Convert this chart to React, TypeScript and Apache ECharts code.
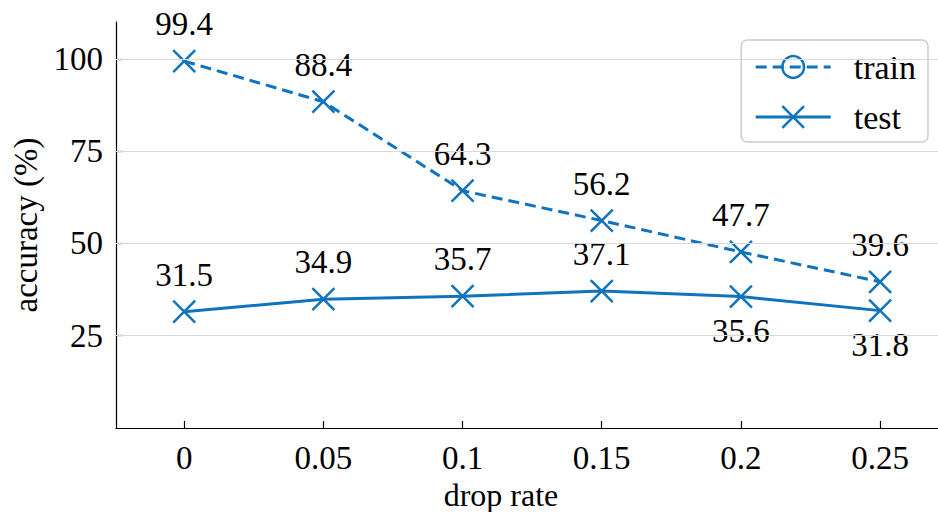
import React, { useEffect, useRef } from "react";
import * as echarts from "echarts";

const dropRates = [0, 0.05, 0.1, 0.15, 0.2, 0.25];
const trainAcc = [99.4, 88.4, 64.3, 56.2, 47.7, 39.6];
const testAcc = [31.5, 34.9, 35.7, 37.1, 35.6, 31.8];
const testLabelBelow = [false, false, false, false, true, true];
const yTicks = [25, 50, 75, 100];
const xTicks = [0, 0.05, 0.1, 0.15, 0.2, 0.25];

const BLUE = "#0f74bd";
const FONT = "'Liberation Serif', 'Times New Roman', Times, serif";
const FS = 33;
const X_PATH = "path://M0,0L10,10M10,0L0,10";

export default function App() {
  const ref = useRef<HTMLDivElement>(null);
  useEffect(() => {
    if (!ref.current) return;
    const chart = echarts.init(ref.current, null, { renderer: "svg" });
    const markerStyle = { color: "none", borderColor: BLUE, borderWidth: 2.5 };
    const labelStyle = { fontFamily: FONT, fontSize: FS, color: "#000" };
    chart.setOption({
      animation: false,
      textStyle: { fontFamily: FONT },
      grid: { left: 116, right: 0, top: 22, bottom: 84, outerBoundsMode: "none", containLabel: false },
      xAxis: {
        type: "value",
        min: -0.0245,
        max: 0.2708,
        name: "drop rate",
        nameLocation: "middle",
        nameGap: 48,
        nameTextStyle: { fontFamily: FONT, fontSize: 32, color: "#000", padding: [0, 52, 0, 0] },
        axisLine: { show: true, onZero: false, lineStyle: { color: "#000", width: 1.2 } },
        axisTick: { show: true, inside: true, length: 7, customValues: xTicks, lineStyle: { color: "#000", width: 1.2 } },
        axisLabel: {
          customValues: xTicks,
          margin: 13,
          fontFamily: FONT,
          fontSize: FS,
          color: "#000",
          formatter: (v: number) => String(+v.toFixed(2)),
        },
        splitLine: { show: false },
      },
      yAxis: {
        type: "value",
        min: 0,
        max: 110,
        interval: 25,
        name: "accuracy (%)",
        nameLocation: "middle",
        nameGap: 67,
        nameTextStyle: { fontFamily: FONT, fontSize: FS, color: "#000" },
        axisLine: { show: true, onZero: false, lineStyle: { color: "#000", width: 1.2 } },
        axisTick: { show: true, inside: true, length: 7, customValues: yTicks, lineStyle: { color: "#000", width: 1.2 } },
        axisLabel: { customValues: yTicks, margin: 13, fontFamily: FONT, fontSize: FS, color: "#000" },
        splitLine: { show: false },
      },
      legend: {
        data: [
          { name: "train", itemStyle: { color: "none", borderColor: BLUE, borderWidth: 2.5 }, lineStyle: { width: 3 } },
          { name: "test", itemStyle: { color: "none", borderColor: BLUE, borderWidth: 2.5 }, lineStyle: { width: 3 } },
        ],
        orient: "vertical",
        right: 10,
        top: 40,
        itemWidth: 75,
        itemHeight: 27,
        itemGap: 16,
        padding: [10, 12, 8, 13],
        backgroundColor: "#fff",
        borderColor: "#cccccc",
        borderWidth: 1.5,
        borderRadius: 6,
        textStyle: { fontFamily: FONT, fontSize: 34, color: "#000", padding: [0, 0, 0, 18] },
      },
      series: [
        {
          name: "grid",
          type: "line",
          data: [],
          silent: true,
          z: 0,
          markLine: {
            silent: true,
            symbol: "none",
            label: { show: false },
            lineStyle: { color: "#d9d9d9", width: 1, type: "solid" },
            data: yTicks.map((t) => ({ yAxis: t })),
          },
        },
        {
          name: "train",
          type: "line",
          z: 3,
          symbol: "circle",
          symbolSize: 22,
          itemStyle: markerStyle,
          lineStyle: { color: BLUE, width: 3, type: [11, 6] },
          label: { show: true, position: "top", distance: 7, ...labelStyle },
          data: dropRates.map((x, i) => ({ value: [x, trainAcc[i]], symbol: X_PATH })),
        },
        {
          name: "test",
          type: "line",
          z: 3,
          symbol: X_PATH,
          symbolSize: 22,
          itemStyle: markerStyle,
          lineStyle: { color: BLUE, width: 3, type: "solid" },
          label: { show: true, position: "top", distance: 7, ...labelStyle },
          data: dropRates.map((x, i) => ({
            value: [x, testAcc[i]],
            label: testLabelBelow[i] ? { position: "bottom", distance: 4 } : { position: "top" },
          })),
        },
      ],
    });
    return () => chart.dispose();
  }, []);
  return (
    <div
      ref={ref}
      style={{ position: "absolute", left: 0, top: 0, width: 938, height: 512, background: "#fff" }}
    />
  );
}
